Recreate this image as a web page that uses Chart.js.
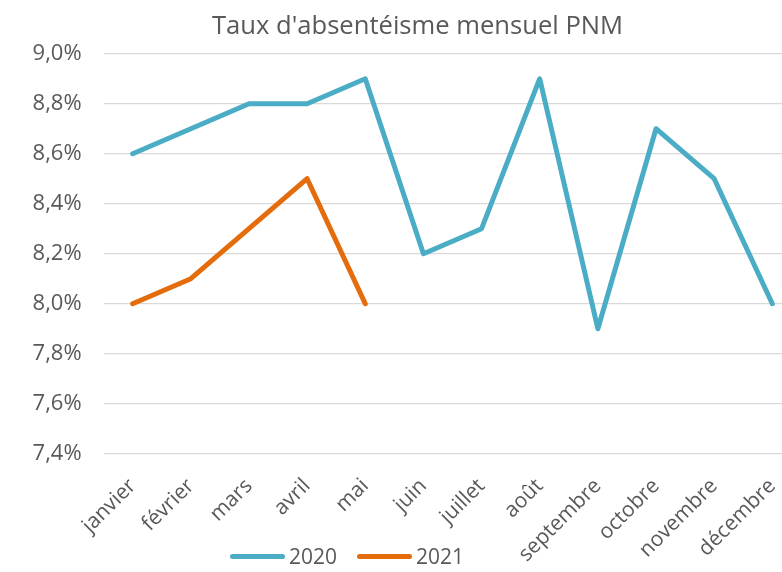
<!DOCTYPE html>
<html>
<head>
<meta charset="utf-8">
<script src="https://cdn.jsdelivr.net/npm/chart.js"></script>
<style>
  html, body { margin: 0; padding: 0; background: #fff; overflow: hidden; }
  #wrap { position: absolute; left: 0; top: 0; width: 835px; height: 572px; }
  #legend { position: absolute; left: 230px; top: 544px; height: 24px; display: flex; align-items: center;
            font-family: "Open Sans", sans-serif; font-size: 21px; color: #595959; }
  .item { display: flex; align-items: center; margin-right: 20px; }
  .swatch { width: 55px; height: 5px; border-radius: 3px; margin-right: 4px; }
</style>
</head>
<body>
<div id="wrap"><canvas id="absChart"></canvas></div>
<div id="legend"></div>
<script>
// DATA
const months = ["janvier", "février", "mars", "avril", "mai", "juin", "juillet", "août",
                "septembre", "octobre", "novembre", "décembre"];
const taux2020 = [8.6, 8.7, 8.8, 8.8, 8.9, 8.2, 8.3, 8.9, 7.9, 8.7, 8.5, 8.0];
const taux2021 = [8.0, 8.1, 8.3, 8.5, 8.0, null, null, null, null, null, null, null];
const yTicks = [7.4, 7.6, 7.8, 8.0, 8.2, 8.4, 8.6, 8.8, 9.0];

const grey = "#595959";
const font = "'Open Sans', sans-serif";

const series = [
  { label: "2020", data: taux2020, color: "#4BACC6" },
  { label: "2021", data: taux2021, color: "#E46C0A" }
];

// LEGEND (html)
series.forEach(function (s) {
  const item = document.createElement("div");
  item.className = "item";
  item.innerHTML = '<span class="swatch" style="background:' + s.color + '"></span><span>' + s.label + '</span>';
  document.getElementById("legend").appendChild(item);
});

// CHART
const ctx = document.getElementById("absChart").getContext("2d");
new Chart(ctx, {
  type: "line",
  data: {
    labels: months,
    datasets: series.map(function (s) {
      return {
        label: s.label,
        data: s.data,
        borderColor: s.color,
        backgroundColor: s.color,
        borderWidth: 5,
        borderCapStyle: "round",
        borderJoinStyle: "round",
        pointRadius: 0,
        tension: 0,
        spanGaps: false
      };
    })
  },
  options: {
    responsive: true,
    maintainAspectRatio: false,
    animation: false,
    layout: { padding: 0 },
    plugins: {
      legend: { display: false },
      tooltip: { enabled: false },
      title: {
        display: true,
        text: "Taux d'absentéisme mensuel PNM",
        color: grey,
        font: { family: font, size: 25.6, weight: "normal", lineHeight: 1.2 },
        padding: { top: 11, bottom: 12 }
      }
    },
    scales: {
      x: {
        offset: true,
        grid: { display: false },
        border: { display: false },
        ticks: {
          color: grey,
          font: { family: font, size: 21 },
          minRotation: 45,
          maxRotation: 45,
          autoSkip: false,
          padding: 12
        },
        afterFit: function (scale) { scale.height = 118.3; }
      },
      y: {
        min: yTicks[0],
        max: yTicks[yTicks.length - 1],
        afterBuildTicks: function (scale) {
          scale.ticks = yTicks.map(function (v) { return { value: v }; });
        },
        grid: { color: "#D9D9D9", lineWidth: 1.3, drawTicks: false },
        border: { display: false },
        ticks: {
          color: grey,
          font: { family: font, size: 22 },
          padding: 22,
          callback: function (v) { return v.toFixed(1).replace(".", ",") + "%"; }
        },
        afterFit: function (scale) { scale.width = 103.6; }
      },
      // empty right-hand strip so the plot ends where the reference ends
      yRight: {
        position: "right",
        min: 0,
        max: 1,
        grid: { display: false },
        border: { display: false },
        ticks: { display: false },
        afterFit: function (scale) { scale.width = 33.6; }
      }
    }
  }
});
</script>
</body>
</html>
